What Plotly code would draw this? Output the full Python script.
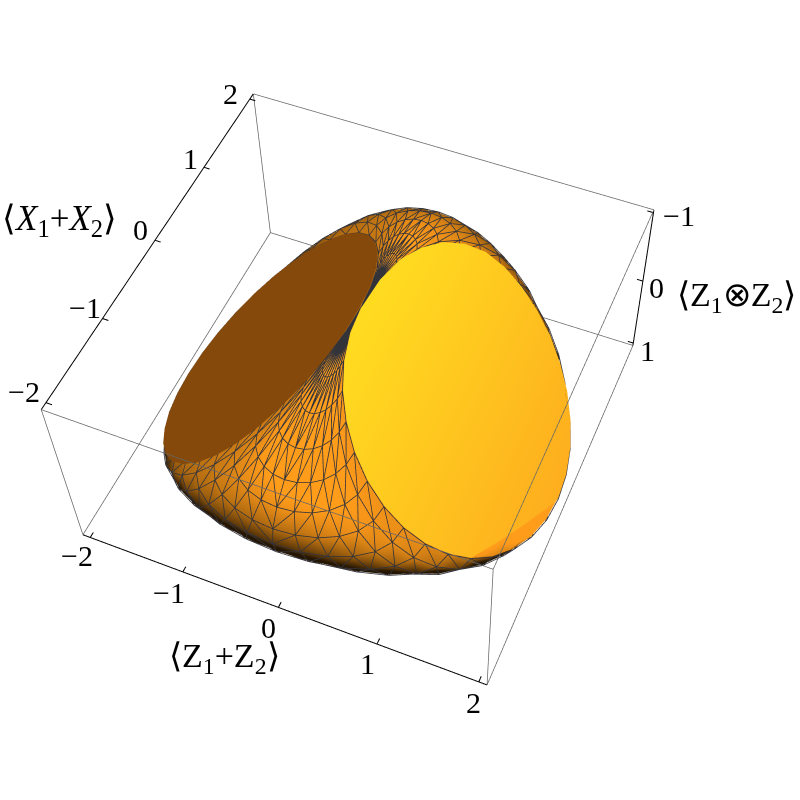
import plotly.graph_objects as go

# One quarter of the body (x>=0, y>=0), row by row from ZZ=1 to the tip at ZZ=-1.
# Estimated from the outline in the picture: two flat round faces plus the curved
# skin between them, so these are rounded geometry estimates, not measured pixels.
zz_rows = [1.0, 0.981, 0.924, 0.831, 0.707, 0.556, 0.383, 0.195, 0.0, -0.195, -0.383, -0.556, -0.707, -0.831, -0.924, -0.981, -1.0]
x_rows = [
    [0, .518, 1, 1.414, 1.732, 1.932, 2],
    [0, .513, .991, 1.401, 1.716, 1.913, 1.981],
    [0, .498, .962, 1.360, 1.666, 1.858, 1.924],
    [0, .474, .916, 1.295, 1.586, 1.769, 1.831],
    [0, .442, .854, 1.207, 1.478, 1.649, 1.707],
    [0, .403, .778, 1.100, 1.348, 1.503, 1.556],
    [0, .358, .692, .978, 1.198, 1.336, 1.383],
    [0, .309, .598, .845, 1.035, 1.154, 1.195],
    [0, .259, .5, .707, .866, .966, 1],
    [0, .208, .403, .569, .697, .778, .805],
    [0, .160, .309, .436, .534, .596, .617],
    [0, .115, .222, .314, .385, .429, .444],
    [0, .076, .147, .207, .254, .283, .293],
    [0, .044, .085, .120, .146, .163, .169],
    [0, .020, .038, .054, .066, .073, .076],
    [0, .005, .010, .013, .016, .018, .019],
    [0, 0, 0, 0, 0, 0, 0],
]
y_rows = [
    [0, 0, 0, 0, 0, 0, 0],
    [.39, .387, .377, .36, .338, .31, .276],
    [.765, .759, .739, .707, .663, .607, .541],
    [1.111, 1.102, 1.073, 1.027, .962, .882, .786],
    [1.414, 1.402, 1.366, 1.307, 1.225, 1.122, 1.0],
    [1.663, 1.649, 1.606, 1.536, 1.44, 1.319, 1.176],
    [1.848, 1.832, 1.785, 1.707, 1.6, 1.466, 1.307],
    [1.962, 1.945, 1.895, 1.812, 1.699, 1.556, 1.387],
    [2.0, 1.983, 1.932, 1.848, 1.732, 1.587, 1.414],
    [1.962, 1.945, 1.895, 1.812, 1.699, 1.556, 1.387],
    [1.848, 1.832, 1.785, 1.707, 1.6, 1.466, 1.307],
    [1.663, 1.649, 1.606, 1.536, 1.44, 1.319, 1.176],
    [1.414, 1.402, 1.366, 1.307, 1.225, 1.122, 1.0],
    [1.111, 1.102, 1.073, 1.027, .962, .882, .786],
    [.765, .759, .739, .707, .663, .607, .541],
    [.39, .387, .377, .36, .338, .31, .276],
    [0, 0, 0, 0, 0, 0, 0],
]
# outlines of the two flat faces, |y| per row
yellow_far = [0, .28, .55, .80, 1.03, 1.22, 1.38, 1.49, 1.56, 1.58, 1.54, 1.42, 1.24, 1.0, .72, .38, 0]
yellow_near = [0, .08, .24, .5, .82, 1.176, 1.307, 1.387, 1.414, 1.387, 1.307, 1.176, 1.0, .786, .541, .276, 0]
brown_far = [0, .276, .541, .786, 1.0, 1.176, 1.307, 1.387, 1.414, 1.387, 1.307, 1.176, 1.0, .786, .541, .276, 0]
brown_near = [0, .28, .55, .80, 1.03, 1.22, 1.36, 1.45, 1.49, 1.47, 1.39, 1.25, 1.06, .83, .57, .29, 0]

xy_ticks = [-2, -1, 0, 1, 2]
zz_ticks = [-1, 0, 1]
x_tick_labels = ["−2", "−1", "0", "1", "2"]
y_tick_labels = ["−2", "−1", "0", "1", "2"]
zz_tick_labels = ["−1", "0", "1"]

title_x = "⟨Z<sub>1</sub>+Z<sub>2</sub>⟩"
title_y = "⟨<i>X</i><sub>1</sub>+<i>X</i><sub>2</sub>⟩"
title_zz = "⟨Z<sub>1</sub>⊗Z<sub>2</sub>⟩"

FONT = "Liberation Serif"
WIRE = "#33333a"
BOX_GREY = "#666666"
n_rows = len(zz_rows)
n_cols = len(x_rows[0])


# picture has the ZZ axis running away from the viewer, so it is drawn flipped
def zp(v):
    return -v


verts = {}
vx, vy, vz = [], [], []


def vert(a, b, c):
    key = (round(a, 3), round(b, 3), round(c, 3))
    if key not in verts:
        verts[key] = len(vx)
        vx.append(a)
        vy.append(b)
        vz.append(c)
    return verts[key]


ti, tj, tk = [], [], []
wx, wy, wz = [], [], []
GROW = 1.004  # keeps the wires just above the skin
LIFT = 0.006  # keeps the flat faces just above the wires


def wire(points):
    for a, b, c in points:
        wx.append(a * GROW)
        wy.append(b * GROW)
        wz.append(c * GROW)
    wx.append(None)
    wy.append(None)
    wz.append(None)


for sx in (1, -1):
    for sy in (1, -1):
        P = [[(sx * x_rows[r][c], sy * y_rows[r][c], zp(zz_rows[r])) for c in range(n_cols)] for r in range(n_rows)]
        for r in range(n_rows - 1):
            for c in range(n_cols - 1):
                a = vert(*P[r][c])
                b = vert(*P[r][c + 1])
                d = vert(*P[r + 1][c + 1])
                e = vert(*P[r + 1][c])
                for t in ((a, b, d), (a, d, e)):
                    if len(set(t)) < 3:
                        continue
                    ti.append(t[0])
                    tj.append(t[1] if sx * sy > 0 else t[2])
                    tk.append(t[2] if sx * sy > 0 else t[1])
                wire([P[r][c], P[r + 1][c + 1]])
        for r in range(n_rows):
            wire(P[r])
        for c in range(n_cols):
            wire([P[r][c] for r in range(n_rows)])

# flat faces: the outer column of the rows, both sides of y=0
back = list(range(n_rows - 2, 0, -1))
face_x = [x_rows[r][-1] for r in range(n_rows)] + [x_rows[r][-1] for r in back]
face_z = [zp(zz_rows[r]) + LIFT for r in range(n_rows)] + [zp(zz_rows[r]) + LIFT for r in back]
yellow_y = yellow_far + [-yellow_near[r] for r in back]
brown_y = brown_far + [-brown_near[r] for r in back]
fan_i = [0] * (len(face_x) - 2)
fan_j = list(range(1, len(face_x) - 1))
fan_k = list(range(2, len(face_x)))

flat = dict(ambient=1, diffuse=0, specular=0, roughness=1, fresnel=0)

fig = go.Figure()
fig.add_trace(go.Mesh3d(x=vx, y=vy, z=vz, i=ti, j=tj, k=tk, color="#ff9a18", flatshading=False,
                        lighting=dict(ambient=0.14, diffuse=1.0, specular=0.05, roughness=0.6, fresnel=0),
                        lightposition=dict(x=70000, y=-90000, z=40000), hoverinfo="skip"))
fig.add_trace(go.Mesh3d(x=[v + LIFT for v in face_x], y=yellow_y, z=face_z, i=fan_i, j=fan_j, k=fan_k, intensity=face_x,
                        colorscale=[[0, "#ffdc20"], [1, "#feae1e"]], showscale=False,
                        lighting=flat, hoverinfo="skip"))
fig.add_trace(go.Mesh3d(x=[-v - LIFT for v in face_x], y=brown_y, z=face_z, i=fan_i, j=fan_j, k=fan_k, color="#84490b",
                        lighting=flat, hoverinfo="skip"))
fig.add_trace(go.Scatter3d(x=wx, y=wy, z=wz, mode="lines", line=dict(color=WIRE, width=1.6), hoverinfo="skip", showlegend=False))

# box, with the small padding the original leaves past the last ticks
lo, hi = -2.08, 2.08
zlo, zhi = -1.04, 1.04
grey = [
    ((lo, lo, zhi), (hi, lo, zhi)), ((lo, hi, zhi), (hi, hi, zhi)), ((lo, hi, zlo), (hi, hi, zlo)),
    ((hi, lo, zhi), (hi, hi, zhi)), ((lo, lo, zlo), (lo, hi, zlo)), ((hi, lo, zlo), (hi, hi, zlo)),
    ((lo, lo, zlo), (lo, lo, zhi)), ((lo, hi, zlo), (lo, hi, zhi)), ((hi, lo, zlo), (hi, lo, zhi)),
]
black = [((lo, lo, zlo), (hi, lo, zlo)), ((lo, lo, zhi), (lo, hi, zhi)), ((hi, hi, zlo), (hi, hi, zhi))]
TICK = 0.06
for v in xy_ticks:
    black.append(((v, lo, zlo), (v, lo + TICK, zlo)))
    black.append(((lo, v, zhi), (lo + TICK, v, zhi)))
for v in zz_ticks:
    black.append(((hi, hi, zp(v)), (hi - TICK, hi, zp(v))))


def seg_trace(segs, color, width):
    x, y, z = [], [], []
    for p, q in segs:
        x += [p[0], q[0], None]
        y += [p[1], q[1], None]
        z += [p[2], q[2], None]
    return go.Scatter3d(x=x, y=y, z=z, mode="lines", line=dict(color=color, width=width), hoverinfo="skip", showlegend=False)


fig.add_trace(seg_trace(grey, BOX_GREY, 1.5))
fig.add_trace(seg_trace(black, "#000000", 2))

SIZE = 30
ann = []


def label(x, y, z, text, dx, dy, size=SIZE):
    ann.append(dict(x=x, y=y, z=z, text=text, showarrow=False, xanchor="center", yanchor="middle",
                    xshift=dx, yshift=-dy, font=dict(family=FONT, size=size, color="black")))


x_shift = [(-13, 18), (-14, 21), (-10, 20), (-9, 19), (-5, 21)]
y_shift = [(-22, -11), (-17, -11), (-15, -11), (-14, -9), (-19, -6)]
zz_shift = [(26, 3), (14, 6), (14, 7)]
for v, t, s in zip(xy_ticks, x_tick_labels, x_shift):
    label(v, lo, zlo, t, s[0], s[1])
for v, t, s in zip(xy_ticks, y_tick_labels, y_shift):
    label(lo, v, zhi, t, s[0], s[1])
for v, t, s in zip(zz_ticks, zz_tick_labels, zz_shift):
    label(hi, hi, zp(v), t, s[0], s[1])
label(0, lo, zlo, title_x, -54, 51, 34)
label(lo, 0, zhi, title_y, -96, -20, 35)
label(hi, hi, 0, title_zz, 94, 16, 34)

axis = dict(visible=False, showgrid=False, zeroline=False, showspikes=False)
fig.update_layout(
    width=1372, height=1372, margin=dict(l=0, r=0, t=0, b=0), paper_bgcolor="white", showlegend=False,
    scene=dict(
        domain=dict(x=[0, 1], y=[0, 1]),
        xaxis=dict(axis, range=[lo, hi]), yaxis=dict(axis, range=[lo, hi]), zaxis=dict(axis, range=[zlo, zhi]),
        aspectmode="manual", aspectratio=dict(x=1, y=1.0034, z=0.496),
        camera=dict(eye=dict(x=1.009, y=-2.0296, z=3.0165), center=dict(x=0.0925, y=-0.0119, z=-0.0353),
                    up=dict(x=-0.0884, y=0.2555, z=0.9628), projection=dict(type="perspective")),
        annotations=ann,
    ),
)

# the narrow view of the original needs a plot larger than the window, centred on it
shift = ("var g=document.querySelector('.plotly-graph-div');g.style.position='absolute';"
         "g.style.left='-286px';g.style.top='-286px';document.body.style.overflow='hidden';")
fig.write_html("out.html", post_script=shift)
